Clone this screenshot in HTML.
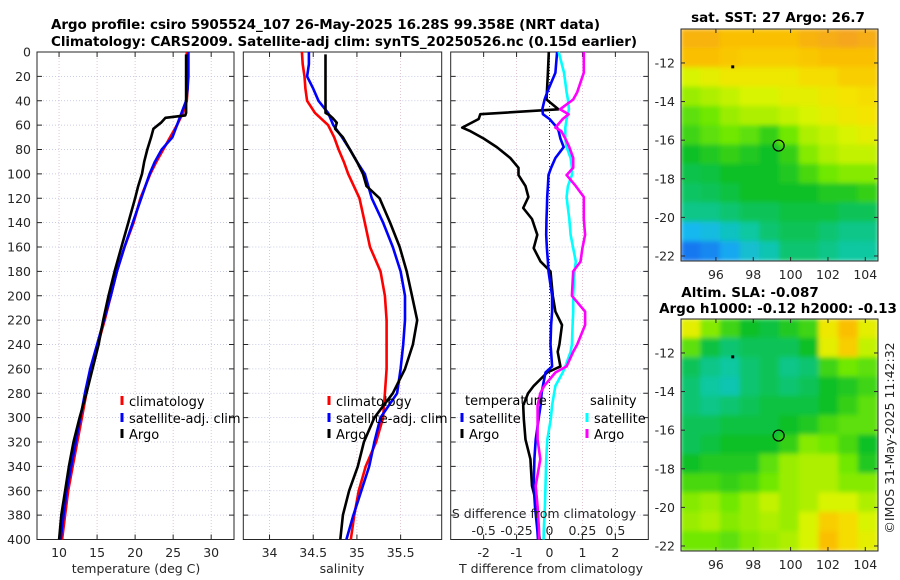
<!DOCTYPE html>
<html><head><meta charset="utf-8">
<style>
html,body{margin:0;padding:0;background:#fff;}
svg{display:block;font-family:"DejaVu Sans","Liberation Sans",sans-serif;}
.tk{font-size:12.5px;fill:#262626;}
.tt{font-size:13.5px;font-weight:bold;fill:#000;}
.lg{font-size:13px;fill:#000;}
</style></head>
<body>
<svg id="fig" width="900" height="580" viewBox="0 0 900 580" xmlns="http://www.w3.org/2000/svg">
<defs>
<filter id="blur" x="0" y="0" width="1" height="1"><feGaussianBlur stdDeviation="2.5" edgeMode="duplicate"/></filter>
<clipPath id="clipMap1"><rect x="681" y="29" width="197" height="232"/></clipPath>
<clipPath id="clipMap2"><rect x="681" y="319" width="197" height="232"/></clipPath>
</defs>
<text class="tt" x="51" y="29" textLength="549">Argo profile: csiro 5905524_107 26-May-2025 16.28S 99.358E (NRT data)</text>
<text class="tt" x="51" y="46" textLength="586">Climatology: CARS2009. Satellite-adj clim: synTS_20250526.nc (0.15d earlier)</text>
<text class="tt" x="778" y="22" text-anchor="middle">sat. SST: 27 Argo: 26.7</text>
<text class="tt" x="750" y="297" text-anchor="middle">Altim. SLA: -0.087</text>
<text class="tt" x="778" y="313" text-anchor="middle">Argo h1000: -0.12 h2000: -0.13</text>
<text class="tk" transform="translate(894,438) rotate(-90)" text-anchor="middle">©IMOS 31-May-2025 11:42:32</text>
</svg>
<script>
// ---- data ----
const depthTicks = [0,20,40,60,80,100,120,140,160,180,200,220,240,260,280,300,320,340,360,380,400];
const depths = [0,10,20,30,40,50,60,70,80,90,100,120,140,160,180,200,220,240,260,280,300,320,340,360,380,400];
const tClim = [26.8,26.8,26.9,26.9,26.8,26.3,25.5,24.6,23.7,22.8,22.0,20.7,19.8,18.6,17.6,16.8,16.0,15.1,14.3,13.6,13.0,12.4,11.8,11.2,10.8,10.4];
const tSat  = [27.0,27.0,27.0,26.9,26.7,26.1,25.5,24.9,23.5,22.6,21.9,20.8,19.7,18.6,17.6,16.8,15.9,15.0,14.1,13.4,12.8,12.2,11.6,11.0,10.6,10.2];
const sClim = [34.37,34.38,34.40,34.41,34.43,34.52,34.67,34.74,34.79,34.85,34.90,35.03,35.09,35.15,35.27,35.32,35.34,35.34,35.34,35.32,35.30,35.22,35.10,35.02,34.97,34.93];
const sSat  = [34.45,34.45,34.43,34.50,34.56,34.67,34.73,34.83,34.92,35.00,35.09,35.17,35.30,35.41,35.50,35.55,35.55,35.53,35.50,35.46,35.27,35.20,35.14,35.05,34.96,34.88];
const argoDepth = [2,10,20,30,40,50,52,54,58,63,70,80,90,100,110,120,140,160,180,200,220,240,260,280,300,320,340,360,380,400];
const tArgo = [26.7,26.7,26.7,26.7,26.7,26.7,26.6,24.0,23.4,22.4,22.1,21.6,21.2,20.9,20.4,20.0,19.1,18.2,17.3,16.5,15.8,15.2,14.4,13.6,12.7,11.9,11.3,10.8,10.3,10.0];
const sArgo = [34.64,34.64,34.64,34.64,34.64,34.64,34.69,34.72,34.77,34.75,34.84,34.92,35.00,35.07,35.11,35.26,35.38,35.49,35.57,35.63,35.69,35.64,35.55,35.41,35.20,35.08,35.01,34.91,34.84,34.81];
const diffDepth = [0,17,33,39,47,51,55,62,65,71,78,87,95,101,110,119,128,137,150,161,172,180,200,213,224,240,246,258,263,274,280,290,301,318,334,356,373,392,400];
const dT_argo = [-0.02,-0.05,-0.08,-0.09,0.27,-2.10,-2.15,-2.65,-2.40,-2.00,-1.60,-1.19,-0.94,-0.94,-0.73,-0.64,-0.80,-0.53,-0.37,-0.48,-0.27,0.03,0.10,0.18,0.38,0.30,0.25,0.33,-0.07,-0.48,-0.65,-0.80,-0.78,-0.73,-0.58,-0.53,-0.37,-0.33,-0.30];
const dT_sat  = [0.23,0.18,-0.07,-0.15,-0.22,-0.20,0.00,0.23,0.28,0.33,0.43,0.18,0.05,-0.03,-0.05,-0.07,-0.08,-0.09,-0.10,-0.08,-0.05,-0.03,0.08,0.08,0.05,0.03,0.05,0.08,-0.12,-0.20,-0.24,-0.27,-0.33,-0.42,-0.46,-0.48,-0.44,-0.37,-0.35];
const dS_sat  = [0.07,0.11,0.13,0.14,0.147,0.14,0.13,0.12,0.12,0.12,0.13,0.16,0.17,0.17,0.14,0.13,0.14,0.15,0.16,0.18,0.20,0.19,0.18,0.18,0.175,0.17,0.16,0.12,0.10,0.045,0.035,0.02,0.01,-0.017,-0.025,-0.03,-0.035,-0.043,-0.045];
const dS_argo = [0.26,0.26,0.21,0.18,0.08,0.145,0.10,0.045,0.09,0.12,0.15,0.18,0.18,0.13,0.20,0.26,0.26,0.26,0.27,0.25,0.235,0.18,0.17,0.27,0.27,0.21,0.18,0.13,0.045,-0.04,-0.07,-0.09,-0.09,-0.09,-0.07,-0.105,-0.09,-0.08,-0.08];
const tTicks = [10,15,20,25,30];
const sTicks = [34,34.5,35,35.5];
const dTicks = [-2,-1,0,1,2];
const dSTicks = [-0.5,-0.25,0,0.25,0.5];
const dSTickLabels = ["-0.5","-0.25","0","0.25","0.5"];
const lonTicks = [96,98,100,102,104];
const latTicks = [-12,-14,-16,-18,-20,-22];
const sstGrid = [
[.82,.82,.80,.80,.80,.80,.82,.83,.84,.83],
[.80,.80,.79,.78,.78,.78,.79,.80,.80,.80],
[.70,.72,.74,.74,.74,.74,.76,.76,.78,.78],
[.64,.66,.68,.70,.70,.72,.72,.74,.75,.76],
[.58,.60,.64,.66,.66,.68,.70,.72,.74,.75],
[.55,.58,.60,.58,.54,.60,.66,.68,.70,.72],
[.50,.52,.54,.52,.50,.54,.62,.66,.68,.68],
[.47,.48,.50,.50,.50,.52,.56,.60,.62,.62],
[.45,.46,.48,.50,.50,.50,.50,.52,.52,.54],
[.42,.42,.44,.46,.46,.48,.48,.48,.46,.46],
[.30,.32,.36,.40,.44,.46,.46,.44,.42,.42],
[.22,.24,.28,.34,.38,.44,.44,.42,.40,.40]];
const slaGrid = [
[.72,.62,.55,.50,.48,.52,.55,.74,.80,.72],
[.58,.48,.44,.46,.46,.46,.50,.72,.78,.68],
[.46,.42,.40,.44,.46,.42,.44,.55,.60,.58],
[.44,.40,.38,.44,.46,.44,.46,.50,.52,.55],
[.44,.42,.44,.46,.48,.48,.48,.50,.54,.58],
[.46,.46,.48,.48,.48,.50,.52,.56,.58,.58],
[.46,.48,.50,.50,.50,.54,.62,.60,.56,.50],
[.50,.52,.52,.52,.58,.64,.66,.66,.60,.52],
[.56,.56,.54,.56,.60,.64,.66,.66,.62,.62],
[.62,.64,.60,.64,.68,.64,.66,.70,.70,.66],
[.64,.66,.62,.64,.66,.64,.70,.78,.76,.70],
[.60,.60,.58,.62,.64,.66,.70,.80,.76,.72]];
const floatLon = 99.358, floatLat = -16.28;
const prevLon = 96.9, prevLat = -12.2;

// ---- helpers ----
const NS = "http://www.w3.org/2000/svg";
const svg = document.getElementById('fig');
function mk(tag, attrs, parent){
  const e = document.createElementNS(NS, tag);
  for (const k in attrs) e.setAttribute(k, attrs[k]);
  (parent||svg).appendChild(e);
  return e;
}
const Y0 = 52, Y1 = 539.5;
const yD = d => Y0 + d*(Y1-Y0)/400;
const panels = [
  {name:'temperature', x0:37, x1:234, v0:7.1, v1:33.0},
  {name:'salinity', x0:243.3, x1:441.7, v0:33.70, v1:35.97},
  {name:'difference', x0:450.7, x1:648.3, v0:-3.0, v1:3.0}
];
function sx(p, v){ return p.x0 + (v-p.v0)*(p.x1-p.x0)/(p.v1-p.v0); }

function drawFrame(p, xt, xtl, showY){
  const g = mk('g', {});
  
  
  mk('rect', {x:p.x0, y:Y0, width:p.x1-p.x0, height:Y1-Y0, fill:'#fff'}, g);
  depthTicks.forEach(d=>{
    const l = mk('line', {x1:p.x0, x2:p.x1, y1:yD(d), y2:yD(d), stroke:'#b8bde0', 'stroke-width':0.8, 'stroke-dasharray':'1,2'}, g);
    
    
    mk('line', {x1:p.x0, x2:p.x0+5, y1:yD(d), y2:yD(d), stroke:'#262626'}, g);
    mk('line', {x1:p.x1-5, x2:p.x1, y1:yD(d), y2:yD(d), stroke:'#262626'}, g);
    if (showY){
      const t = mk('text', {x:31, y:yD(d)+4.5, 'text-anchor':'end', class:'tk'}, g);
      t.textContent = d;
      
      
    }
  });
  xt.forEach((v,i)=>{
    const x = sx(p, v);
    mk('line', {x1:x, x2:x, y1:Y0, y2:Y1, stroke:'#d8b8c8', 'stroke-width':0.8, 'stroke-dasharray':'1,2'}, g);
    mk('line', {x1:x, x2:x, y1:Y1-5, y2:Y1, stroke:'#262626'}, g);
    mk('line', {x1:x, x2:x, y1:Y0, y2:Y0+5, stroke:'#262626'}, g);
    const t = mk('text', {x:x, y:557, 'text-anchor':'middle', class:'tk'}, g);
    t.textContent = xtl[i];
    
    
  });
  mk('rect', {x:p.x0, y:Y0, width:p.x1-p.x0, height:Y1-Y0, fill:'none', stroke:'#262626', 'stroke-width':1}, g);
  return g;
}
function line(p, xs, ds, color, name, scale){
  const pts = xs.map((v,i)=> sx(p, v*(scale||1)).toFixed(1)+','+yD(ds[i]).toFixed(1)).join(' ');
  const e = mk('polyline', {points:pts, fill:'none', stroke:color, 'stroke-width':2.6, 'stroke-linejoin':'round'});
  
  
  return e;
}
function legendItem(x, y, color, label, name){
  mk('line', {x1:x, x2:x, y1:y-5, y2:y+4, stroke:color, 'stroke-width':3});
  const t = mk('text', {x:x+7, y:y+5, class:'lg'});
  t.textContent = label;
  
  
}
function xlabel(x, y, s, name){
  const t = mk('text', {x:x, y:y, 'text-anchor':'middle', class:'tk', 'font-size':'13'});
  t.textContent = s;
  
  
}

// Panel 1: temperature
const P1 = panels[0];
drawFrame(P1, tTicks, tTicks.map(String), true);
line(P1, tClim, depths, '#ff0000', 'temperature-climatology-line');
line(P1, tSat, depths, '#0000ff', 'temperature-satellite-line');
line(P1, tArgo, argoDepth, '#000000', 'temperature-argo-line');
legendItem(122, 401, '#ff0000', 'climatology', 'legend-climatology');
legendItem(122, 418, '#0000ff', 'satellite-adj. clim', 'legend-satellite-adj-clim');
legendItem(122, 434, '#000000', 'Argo', 'legend-argo');
xlabel(136, 573, 'temperature (deg C)', 'temperature-x-axis-title');

// Panel 2: salinity
const P2 = panels[1];
drawFrame(P2, sTicks, ["34","34.5","35","35.5"], false);
line(P2, sClim, depths, '#ff0000', 'salinity-climatology-line');
line(P2, sSat, depths, '#0000ff', 'salinity-satellite-line');
line(P2, sArgo, argoDepth, '#000000', 'salinity-argo-line');
legendItem(329, 401, '#ff0000', 'climatology', 'legend-climatology-salinity');
legendItem(329, 418, '#0000ff', 'satellite-adj. clim', 'legend-satellite-adj-clim-salinity');
legendItem(329, 434, '#000000', 'Argo', 'legend-argo-salinity');
xlabel(342, 573, 'salinity', 'salinity-x-axis-title');

// Panel 3: differences
const P3 = panels[2];
drawFrame(P3, dTicks, dTicks.map(String), false);
mk('line', {x1:sx(P3,0), x2:sx(P3,0), y1:Y0, y2:Y1, stroke:'#333', 'stroke-width':1, 'stroke-dasharray':'1,2'});
line(P3, dT_argo, diffDepth, '#000000', 'temperature-diff-argo-line');
line(P3, dT_sat, diffDepth, '#0000ff', 'temperature-diff-satellite-line');
line(P3, dS_sat, diffDepth, '#00ffff', 'salinity-diff-satellite-line', 4);
line(P3, dS_argo, diffDepth, '#ff00ff', 'salinity-diff-argo-line', 4);
(function(){
  const t1 = mk('text', {x:465, y:405, class:'lg'}); t1.textContent='temperature';
  
  
  const t2 = mk('text', {x:590, y:405, class:'lg'}); t2.textContent='salinity';
  
  
})();
legendItem(462, 418, '#0000ff', 'satellite', 'legend-temperature-satellite');
legendItem(462, 434, '#000000', 'Argo', 'legend-temperature-argo');
legendItem(587, 418, '#00ffff', 'satellite', 'legend-salinity-satellite');
legendItem(587, 434, '#ff00ff', 'Argo', 'legend-salinity-argo');
xlabel(544, 518, 'S difference from climatology', 'salinity-diff-axis-title');
dSTicks.forEach((v,i)=>{
  const t = mk('text', {x:sx(P3, v*4), y:535, 'text-anchor':'middle', class:'tk'});
  t.textContent = dSTickLabels[i];
  
  
});
xlabel(551, 573, 'T difference from climatology', 'temperature-diff-x-axis-title');

// ---- maps ----
const stops = [[0.2,[24,104,240]],[0.3,[24,184,240]],[0.4,[8,200,160]],[0.5,[16,192,40]],[0.6,[112,232,0]],[0.7,[216,244,0]],[0.75,[244,228,0]],[0.8,[250,192,0]],[0.85,[244,160,32]]];
function cmap(v){
  if (v<=stops[0][0]) return 'rgb('+stops[0][1]+')';
  for (let i=1;i<stops.length;i++){
    if (v<=stops[i][0]){
      const a=stops[i-1], b=stops[i], f=(v-a[0])/(b[0]-a[0]);
      return 'rgb('+a[1].map((c,j)=>Math.round(c+(b[1][j]-c)*f)).join(',')+')';
    }
  }
  return 'rgb('+stops[stops.length-1][1]+')';
}
const LON0=94.13, LON1=104.68, LAT0=-10.24, LAT1=-22.26;
function drawMap(grid, y0, y1, name, clip){
  const x0=681, x1=878;
  const lx = v => x0 + (v-LON0)*(x1-x0)/(LON1-LON0);
  const ly = v => y0 + (v-LAT0)*(y1-y0)/(LAT1-LAT0);
  const g = mk('g', {'clip-path':'url(#'+clip+')'});
  
  
  const inner = mk('g', {filter:'url(#blur)'}, g);
  const rows = grid.length, cols = grid[0].length;
  const cw = (x1-x0)/cols, ch = (y1-y0)/rows;
  grid.forEach((row,r)=>row.forEach((v,c)=>{
    const cell = mk('rect', {x:x0+c*cw-0.5, y:y0+r*ch-0.5, width:cw+1, height:ch+1, fill:cmap(v)}, inner);
    
    
  }));
  const ax = mk('g', {});
  
  
  mk('rect', {x:x0, y:y0, width:x1-x0, height:y1-y0, fill:'none', stroke:'#262626'}, ax);
  lonTicks.forEach(v=>{
    const x=lx(v);
    mk('line', {x1:x, x2:x, y1:y1-4, y2:y1, stroke:'#262626'}, ax);
    mk('line', {x1:x, x2:x, y1:y0, y2:y0+4, stroke:'#262626'}, ax);
    const t = mk('text', {x:x, y:y1+18, 'text-anchor':'middle', class:'tk'}, ax);
    t.textContent = v;
    
    
  });
  latTicks.forEach(v=>{
    const y=ly(v);
    mk('line', {x1:x0, x2:x0+4, y1:y, y2:y, stroke:'#262626'}, ax);
    mk('line', {x1:x1-4, x2:x1, y1:y, y2:y, stroke:'#262626'}, ax);
    const t = mk('text', {x:675, y:y+4.5, 'text-anchor':'end', class:'tk'}, ax);
    t.textContent = v;
    
    
  });
  const dot = mk('rect', {x:lx(prevLon)-1.5, y:ly(prevLat)-1.5, width:3, height:3, fill:'#000'});
  
  
  const circ = mk('circle', {cx:lx(floatLon), cy:ly(floatLat), r:5.5, fill:'none', stroke:'#000', 'stroke-width':1.2});
  
  
}
drawMap(sstGrid, 29, 261, 'sst-map', 'clipMap1');
drawMap(slaGrid, 319, 551, 'sla-map', 'clipMap2');
</script>
</body></html>
